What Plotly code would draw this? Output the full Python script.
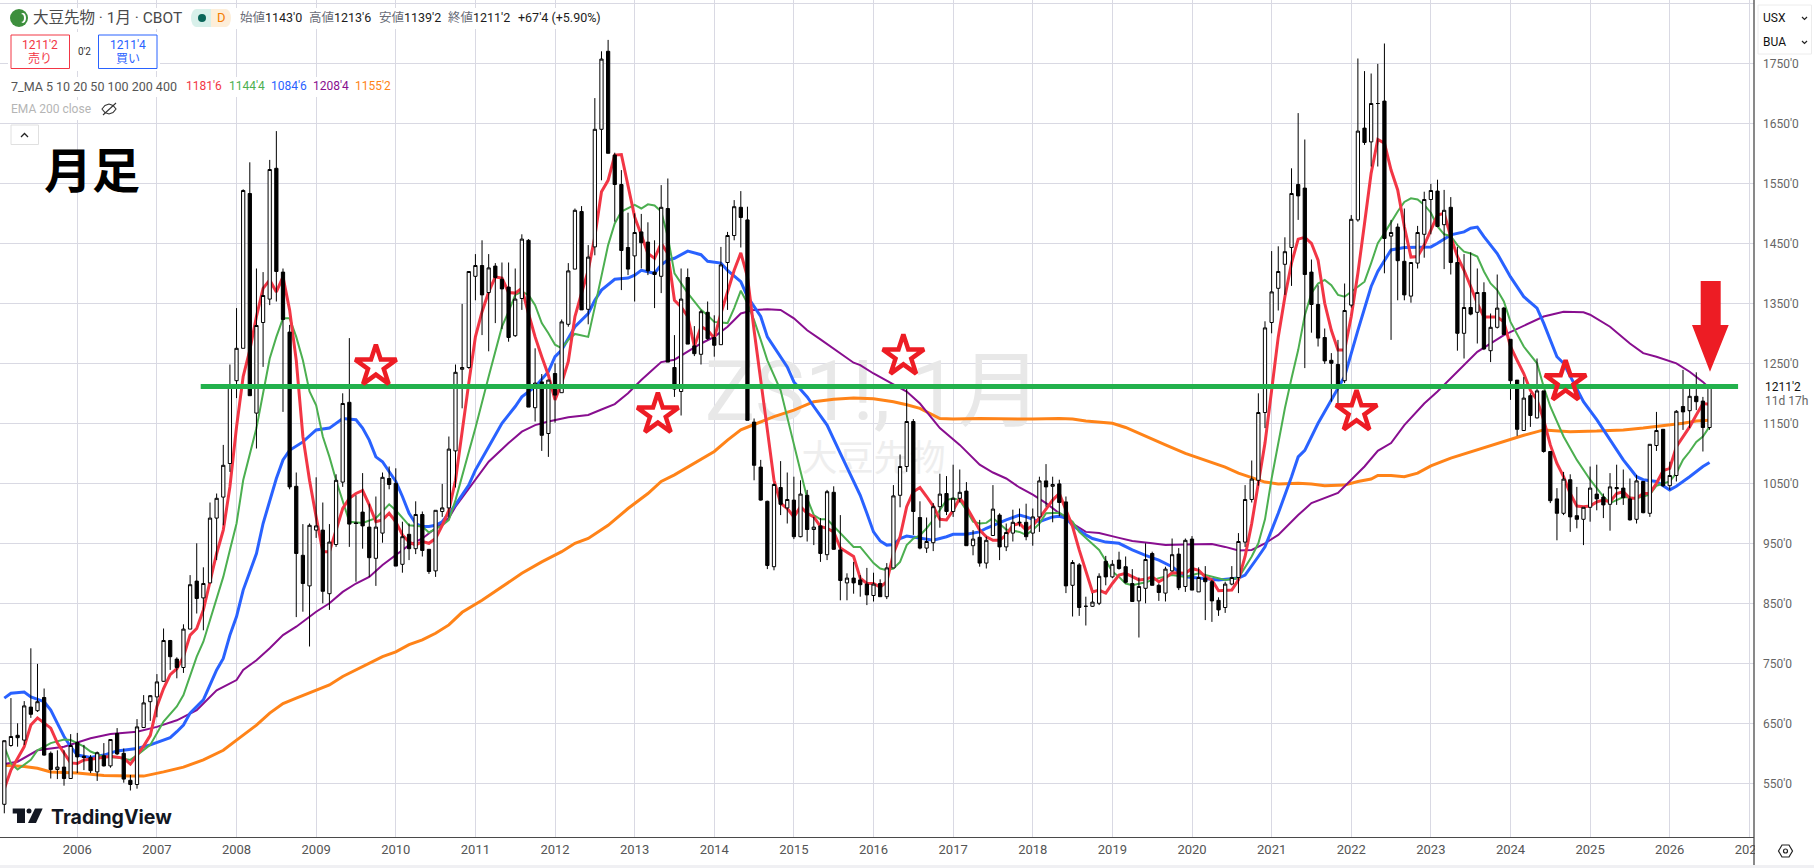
import plotly.graph_objects as go

# monthly bars, index 0 = Jan 2006, -11 = Feb 2005
months = list(range(-11, 247))

opens = [
    515, 613, 630, 622, 677, 671, 693, 600, 573, 577, 558,
    618, 595, 593, 569, 596, 579, 633, 600, 555, 548, 643, 686,
    694, 720, 788, 757, 743, 807, 887, 859, 884, 992, 1027, 1083,
    1221, 1275, 1533, 1167, 1318, 1357, 1575, 1402, 1302, 1045, 930, 879,
    972, 972, 866, 948, 1052, 1185, 984, 1002, 977, 925, 967, 1058,
    1050, 915, 965, 941, 998, 940, 904, 1003, 1009, 1104, 1240, 1243,
    1395, 1413, 1368, 1412, 1390, 1377, 1296, 1358, 1455, 1176, 1219, 1133,
    1233, 1201, 1315, 1407, 1503, 1340, 1444, 1640, 1770, 1597, 1548, 1443,
    1429, 1469, 1452, 1402, 1395, 1508, 1243, 1203, 1393, 1279, 1265, 1335,
    1293, 1281, 1418, 1463, 1510, 1489, 1152, 1077, 1020, 911, 1043, 1009,
    1022, 961, 1030, 973, 979, 931, 1035, 939, 884, 892, 889, 882,
    863, 883, 861, 909, 1030, 1078, 1153, 993, 942, 951, 1011, 1033,
    1003, 1025, 1037, 946, 960, 917, 963, 997, 944, 967, 984, 985,
    967, 994, 1054, 1045, 1049, 1019, 880, 914, 845, 845, 850, 920,
    894, 922, 911, 883, 854, 875, 933, 880, 867, 904, 932, 878,
    957, 869, 892, 886, 855, 843, 882, 893, 952, 1023, 1055, 1168,
    1318, 1375, 1415, 1443, 1548, 1542, 1402, 1348, 1293, 1255, 1248, 1221,
    1347, 1489, 1642, 1619, 1683, 1687, 1462, 1477, 1420, 1362, 1417, 1465,
    1523, 1537, 1481, 1510, 1418, 1300, 1343, 1335, 1368, 1271, 1310, 1342,
    1290, 1222, 1138, 1196, 1159, 1204, 1103, 1024, 1000, 1056, 996, 990,
    1010, 1032, 1027, 1015, 1043, 1042, 1024, 990, 1053, 1000, 1113, 1140,
    1046, 1063, 1178, 1171, 1195, 1187, 1143,
]
highs = [
    621, 692, 650, 687, 775, 749, 708, 603, 605, 605, 632,
    634, 614, 597, 603, 617, 623, 642, 608, 564, 657, 697, 697,
    732, 808, 789, 760, 815, 897, 950, 910, 1018, 1033, 1114, 1248,
    1342, 1540, 1585, 1408, 1402, 1589, 1637, 1408, 1314, 1068, 982, 983,
    1060, 1018, 982, 1065, 1200, 1292, 1030, 1067, 1016, 1028, 1068, 1078,
    1075, 986, 983, 1020, 1003, 940, 1005, 1049, 1128, 1248, 1349, 1403,
    1432, 1455, 1432, 1417, 1418, 1418, 1408, 1465, 1457, 1275, 1232, 1222,
    1250, 1323, 1417, 1508, 1512, 1447, 1692, 1770, 1789, 1601, 1572, 1501,
    1500, 1499, 1485, 1455, 1547, 1558, 1297, 1408, 1408, 1312, 1339, 1353,
    1330, 1444, 1469, 1522, 1537, 1511, 1158, 1089, 1021, 1050, 1087, 1068,
    1061, 1055, 1039, 994, 992, 1039, 1045, 997, 900, 919, 897, 909,
    901, 890, 917, 1047, 1098, 1208, 1157, 1020, 993, 1017, 1066, 1062,
    1081, 1073, 1052, 972, 989, 961, 1047, 1000, 983, 1006, 1008, 1016,
    1008, 1061, 1082, 1061, 1056, 1028, 922, 917, 861, 867, 900, 929,
    922, 936, 928, 907, 893, 950, 936, 883, 911, 958, 942, 958,
    962, 910, 912, 889, 860, 886, 912, 967, 1047, 1088, 1200, 1320,
    1437, 1445, 1460, 1575, 1667, 1623, 1423, 1380, 1308, 1267, 1289, 1383,
    1497, 1758, 1737, 1733, 1749, 1783, 1489, 1483, 1508, 1418, 1479, 1536,
    1549, 1556, 1539, 1527, 1444, 1432, 1435, 1408, 1385, 1333, 1398, 1344,
    1290, 1222, 1227, 1200, 1258, 1204, 1103, 1042, 1069, 1065, 1044, 1010,
    1078, 1081, 1033, 1067, 1081, 1073, 1058, 1064, 1053, 1115, 1169, 1140,
    1086, 1172, 1239, 1211, 1235, 1194, 1213.75,
]
lows = [
    500, 611, 611, 614, 659, 669, 596, 558, 557, 546, 558,
    567, 572, 567, 554, 578, 576, 597, 551, 538, 541, 642, 654,
    660, 719, 739, 725, 734, 807, 833, 805, 884, 922, 980, 1069,
    1192, 1275, 1196, 1108, 1244, 1347, 1353, 1169, 1040, 827, 836, 778,
    959, 850, 839, 944, 1044, 944, 886, 941, 894, 879, 951, 1040,
    912, 901, 922, 932, 928, 899, 894, 994, 993, 1043, 1175, 1241,
    1355, 1297, 1270, 1317, 1307, 1286, 1294, 1339, 1177, 1153, 1104, 1094,
    1151, 1201, 1311, 1407, 1339, 1315, 1430, 1555, 1600, 1486, 1372, 1397,
    1353, 1408, 1397, 1342, 1367, 1252, 1194, 1163, 1282, 1262, 1248, 1289,
    1261, 1281, 1339, 1455, 1443, 1155, 1055, 1021, 907, 905, 997, 983,
    957, 960, 953, 947, 919, 922, 939, 855, 855, 866, 861, 847,
    853, 861, 857, 909, 1010, 1069, 964, 940, 934, 937, 976, 997,
    994, 1018, 946, 930, 911, 908, 963, 922, 937, 953, 978, 955,
    946, 969, 1011, 985, 995, 867, 828, 829, 813, 844, 847, 880,
    892, 906, 883, 853, 793, 850, 880, 854, 853, 903, 872, 869,
    872, 869, 822, 819, 829, 834, 880, 867, 944, 1018, 1046, 1142,
    1300, 1338, 1364, 1379, 1489, 1242, 1301, 1278, 1249, 1186, 1183, 1217,
    1343, 1486, 1614, 1578, 1578, 1400, 1289, 1355, 1355, 1351, 1408, 1426,
    1465, 1477, 1407, 1398, 1271, 1258, 1330, 1283, 1272, 1252, 1308, 1297,
    1189, 1129, 1138, 1144, 1158, 1101, 1017, 955, 997, 969, 975, 947,
    986, 1005, 992, 971, 1014, 1014, 988, 983, 1000, 994, 1104, 1044,
    1039, 1053, 1139, 1142, 1172, 1103, 1139.25,
]
closes = [
    621, 628, 626, 679, 665, 686, 597, 573, 577, 558, 613,
    594, 593, 571, 601, 579, 623, 599, 557, 548, 644, 684, 696,
    719, 788, 761, 743, 807, 881, 858, 883, 992, 1025, 1080, 1211,
    1275, 1538, 1196, 1313, 1363, 1573, 1403, 1323, 1044, 933, 883, 980,
    979, 870, 952, 1055, 1183, 982, 983, 979, 926, 977, 1060, 1048,
    912, 961, 941, 998, 938, 903, 1005, 1009, 1107, 1235, 1243, 1403,
    1413, 1364, 1409, 1393, 1374, 1293, 1357, 1457, 1177, 1217, 1130, 1222,
    1197, 1319, 1404, 1505, 1339, 1427, 1640, 1757, 1600, 1548, 1438, 1407,
    1468, 1451, 1404, 1398, 1510, 1252, 1207, 1357, 1282, 1266, 1336, 1291,
    1280, 1414, 1463, 1511, 1493, 1155, 1080, 1022, 913, 1048, 1015, 1023,
    961, 1032, 973, 977, 933, 1036, 940, 888, 892, 884, 881, 864,
    882, 861, 909, 1029, 1078, 1153, 1003, 942, 953, 1011, 1032, 1003,
    1025, 1035, 946, 957, 917, 955, 1007, 944, 968, 985, 985, 961,
    994, 1054, 1044, 1048, 1018, 879, 918, 843, 845, 852, 895, 894,
    915, 908, 885, 853, 878, 923, 880, 868, 907, 931, 876, 955,
    872, 893, 886, 854, 839, 882, 893, 953, 1023, 1057, 1168, 1309,
    1369, 1403, 1436, 1533, 1529, 1398, 1348, 1292, 1254, 1250, 1212, 1338,
    1490, 1637, 1618, 1683, 1683, 1458, 1468, 1421, 1364, 1418, 1468, 1523,
    1538, 1478, 1505, 1418, 1300, 1343, 1332, 1368, 1274, 1310, 1342, 1298,
    1221, 1140, 1192, 1163, 1204, 1103, 1021, 1000, 1057, 994, 990, 1010,
    1042, 1024, 1014, 1044, 1041, 1026, 989, 1054, 1001, 1115, 1138, 1046,
    1063, 1170, 1169, 1195, 1186, 1143, 1211.25,
]

ma5_x = [-11, -10, -8, -7, -6, -4, -3, -2, -1, 0, 1, 2, 4, 5, 7, 8, 9, 10, 11, 12, 13, 14, 15, 16, 17, 18, 19, 20, 21, 22, 23, 24, 25, 26, 27, 28, 29, 30, 31, 32, 33, 34, 35, 36, 37, 38, 39, 40, 41, 42, 43, 44, 45, 46, 47, 48, 49, 50, 51, 52, 53, 54, 55, 56, 57, 58, 59, 60, 61, 62, 63, 64, 65, 66, 67, 68, 69, 70, 71, 72, 73, 74, 75, 76, 77, 78, 79, 80, 81, 82, 83, 84, 85, 86, 87, 88, 89, 90, 91, 92, 93, 94, 95, 96, 97, 98, 99, 100, 101, 102, 103, 104, 105, 106, 107, 108, 109, 110, 111, 112, 113, 114, 115, 117, 118, 119, 120, 121, 122, 123, 124, 125, 126, 127, 128, 129, 130, 131, 132, 133, 134, 135, 136, 137, 138, 139, 140, 141, 142, 143, 144, 145, 146, 147, 148, 149, 150, 151, 152, 153, 154, 155, 156, 157, 158, 159, 160, 161, 162, 163, 164, 165, 166, 167, 168, 169, 170, 171, 172, 173, 174, 175, 176, 177, 178, 179, 180, 181, 182, 183, 184, 185, 186, 187, 188, 189, 190, 191, 192, 193, 194, 195, 196, 197, 198, 199, 200, 201, 202, 203, 204, 205, 206, 207, 208, 209, 210, 211, 212, 213, 214, 215, 216, 217, 218, 219, 220, 221, 222, 223, 224, 225, 226, 227, 228, 229, 230, 231, 232, 233, 234, 235, 236, 237, 238, 239, 240, 241, 242, 243, 244, 245, 246]
ma5 = [541, 572, 611, 647, 659, 642, 617, 600, 584, 583, 589, 590, 593, 595, 592, 582, 597, 612, 630, 678, 708, 731, 741, 761, 797, 808, 839, 886, 933, 972, 1044, 1144, 1228, 1272, 1328, 1375, 1389, 1369, 1394, 1339, 1255, 1128, 1055, 994, 936, 936, 972, 1008, 1025, 1033, 1038, 1014, 986, 989, 1000, 986, 964, 952, 947, 953, 950, 958, 980, 1005, 1055, 1139, 1217, 1294, 1336, 1369, 1394, 1392, 1368, 1367, 1375, 1333, 1294, 1261, 1230, 1189, 1217, 1253, 1328, 1367, 1405, 1461, 1536, 1555, 1597, 1598, 1544, 1494, 1464, 1433, 1425, 1450, 1433, 1355, 1344, 1328, 1278, 1311, 1305, 1292, 1333, 1367, 1405, 1434, 1394, 1305, 1217, 1139, 1055, 1017, 1008, 994, 1011, 1000, 994, 978, 975, 969, 942, 928, 892, 883, 883, 877, 886, 933, 961, 1011, 1036, 1043, 1028, 1012, 990, 989, 1005, 1025, 1011, 992, 972, 961, 955, 955, 964, 980, 983, 972, 980, 992, 1008, 1022, 1033, 1005, 978, 939, 905, 869, 872, 867, 883, 897, 900, 894, 889, 890, 894, 886, 892, 901, 900, 900, 908, 905, 894, 889, 871, 871, 872, 889, 928, 983, 1050, 1117, 1205, 1294, 1361, 1417, 1457, 1460, 1450, 1422, 1350, 1305, 1272, 1272, 1328, 1400, 1483, 1567, 1623, 1617, 1572, 1539, 1478, 1427, 1428, 1447, 1472, 1497, 1500, 1461, 1428, 1405, 1378, 1350, 1327, 1327, 1327, 1319, 1278, 1255, 1233, 1205, 1189, 1156, 1114, 1083, 1061, 1033, 1012, 1011, 1012, 1019, 1022, 1019, 1033, 1036, 1025, 1025, 1033, 1033, 1050, 1071, 1075, 1111, 1128, 1144, 1164, 1183, 1181.75]

ma10_x = [-11, -10, -9, -7, -6, -4, -2, -1, 0, 1, 2, 4, 6, 8, 9, 11, 13, 15, 16, 18, 19, 20, 22, 23, 24, 25, 27, 28, 29, 30, 31, 32, 33, 34, 35, 36, 37, 38, 39, 41, 43, 45, 47, 48, 50, 52, 53, 55, 56, 57, 58, 60, 62, 64, 65, 66, 67, 68, 69, 70, 71, 72, 73, 74, 75, 76, 77, 78, 79, 80, 81, 82, 84, 85, 86, 87, 88, 89, 90, 92, 94, 95, 96, 98, 99, 100, 101, 102, 103, 104, 106, 107, 108, 109, 110, 111, 112, 113, 115, 117, 118, 120, 121, 122, 123, 124, 125, 126, 127, 128, 129, 130, 131, 132, 133, 134, 135, 136, 137, 138, 139, 140, 142, 143, 144, 145, 146, 148, 149, 150, 151, 153, 154, 156, 157, 158, 159, 161, 163, 165, 167, 169, 171, 173, 175, 176, 177, 178, 179, 180, 181, 182, 183, 184, 185, 186, 187, 188, 189, 190, 191, 192, 194, 195, 196, 197, 198, 199, 200, 201, 202, 203, 204, 205, 206, 207, 208, 209, 210, 211, 212, 213, 214, 215, 216, 218, 220, 221, 222, 224, 226, 227, 228, 229, 230, 231, 233, 235, 237, 238, 240, 241, 242, 243, 244, 245, 246]
ma10 = [611, 583, 573, 589, 605, 617, 623, 622, 617, 611, 603, 594, 593, 589, 597, 614, 653, 678, 697, 761, 786, 822, 894, 939, 983, 1055, 1142, 1200, 1258, 1294, 1325, 1325, 1294, 1255, 1203, 1180, 1128, 1094, 1055, 986, 984, 992, 1015, 1005, 980, 978, 968, 980, 989, 1022, 1061, 1142, 1228, 1311, 1336, 1364, 1369, 1364, 1347, 1317, 1300, 1281, 1275, 1289, 1299, 1297, 1294, 1344, 1397, 1447, 1483, 1503, 1514, 1508, 1515, 1513, 1503, 1461, 1400, 1367, 1339, 1330, 1319, 1317, 1342, 1371, 1350, 1322, 1289, 1255, 1205, 1161, 1117, 1072, 1025, 997, 990, 990, 967, 944, 944, 917, 908, 905, 908, 919, 947, 958, 963, 975, 989, 1005, 1022, 1025, 1022, 1005, 986, 983, 984, 992, 983, 973, 969, 964, 972, 983, 1000, 1001, 994, 986, 969, 950, 939, 903, 894, 883, 880, 885, 892, 897, 894, 900, 894, 889, 892, 911, 928, 950, 990, 1058, 1118, 1175, 1225, 1272, 1330, 1367, 1383, 1389, 1380, 1364, 1361, 1369, 1386, 1417, 1450, 1467, 1486, 1503, 1519, 1525, 1523, 1514, 1501, 1478, 1465, 1462, 1447, 1436, 1433, 1428, 1403, 1383, 1372, 1353, 1319, 1278, 1250, 1211, 1178, 1128, 1089, 1072, 1056, 1042, 1028, 1017, 1027, 1025, 1031, 1046, 1053, 1067, 1089, 1103, 1119, 1128, 1144.5]

ma20_x = [-11, -10, -8, -7, -5, -4, -3, -2, -1, 0, 2, 4, 6, 8, 9, 11, 13, 14, 15, 16, 17, 19, 21, 22, 23, 24, 25, 27, 28, 29, 30, 31, 32, 34, 36, 38, 40, 42, 43, 44, 45, 46, 48, 49, 50, 51, 52, 53, 54, 55, 57, 59, 60, 62, 64, 66, 67, 69, 71, 72, 73, 75, 77, 78, 79, 81, 83, 84, 85, 87, 88, 89, 90, 92, 94, 95, 97, 98, 100, 101, 103, 104, 106, 107, 108, 110, 111, 113, 115, 117, 118, 119, 120, 121, 122, 123, 124, 125, 127, 129, 131, 132, 134, 136, 137, 138, 140, 142, 143, 145, 147, 148, 149, 150, 152, 153, 155, 157, 159, 161, 163, 165, 167, 169, 172, 175, 176, 178, 179, 180, 181, 183, 184, 185, 187, 189, 191, 193, 195, 196, 197, 198, 200, 202, 204, 205, 207, 209, 210, 211, 212, 214, 216, 218, 220, 221, 222, 223, 224, 225, 227, 229, 230, 232, 233, 234, 235, 236, 238, 240, 241, 243, 245, 246]
ma20 = [692, 700, 702, 694, 686, 672, 650, 628, 611, 597, 593, 597, 604, 607, 608, 614, 622, 626, 636, 647, 667, 689, 739, 758, 797, 828, 872, 933, 983, 1022, 1058, 1089, 1105, 1119, 1139, 1142, 1158, 1156, 1142, 1122, 1094, 1086, 1053, 1028, 1000, 983, 978, 978, 980, 986, 1014, 1047, 1072, 1111, 1150, 1178, 1194, 1211, 1236, 1261, 1272, 1311, 1333, 1355, 1372, 1390, 1392, 1397, 1405, 1400, 1414, 1422, 1425, 1437, 1431, 1420, 1417, 1405, 1386, 1361, 1328, 1294, 1261, 1244, 1219, 1194, 1178, 1147, 1100, 1053, 1030, 1000, 969, 954, 947, 948, 958, 962, 958, 955, 961, 965, 965, 969, 975, 980, 989, 997, 994, 986, 994, 995, 992, 980, 964, 958, 952, 950, 939, 930, 922, 911, 894, 892, 889, 892, 897, 928, 944, 972, 1000, 1061, 1094, 1105, 1150, 1189, 1228, 1305, 1378, 1403, 1422, 1439, 1443, 1443, 1444, 1450, 1464, 1469, 1475, 1477, 1461, 1433, 1394, 1361, 1342, 1317, 1289, 1261, 1250, 1228, 1186, 1156, 1139, 1106, 1089, 1075, 1061, 1056, 1053, 1039, 1045, 1061, 1078, 1084.75]

ma50_x = [-11, -9, -6, -2, 2, 5, 9, 12, 15, 18, 21, 24, 25, 27, 29, 31, 33, 36, 38, 40, 42, 44, 46, 48, 50, 52, 54, 56, 57, 60, 62, 65, 67, 69, 71, 74, 77, 79, 81, 83, 85, 87, 88, 90, 92, 94, 96, 98, 100, 102, 104, 106, 108, 110, 112, 115, 117, 118, 120, 123, 125, 127, 130, 133, 136, 138, 140, 142, 144, 146, 148, 150, 152, 154, 157, 159, 162, 164, 167, 171, 173, 175, 177, 179, 181, 183, 184, 186, 190, 192, 194, 196, 198, 200, 203, 205, 207, 208, 211, 215, 221, 224, 227, 228, 231, 234, 236, 238, 241, 243, 245, 246]
ma50 = [582, 586, 605, 611, 625, 632, 636, 644, 655, 672, 705, 722, 739, 755, 775, 797, 811, 836, 850, 869, 883, 894, 914, 930, 947, 958, 975, 992, 1011, 1055, 1086, 1117, 1136, 1147, 1153, 1160, 1164, 1173, 1182, 1200, 1222, 1242, 1252, 1256, 1269, 1283, 1294, 1311, 1333, 1339, 1340, 1339, 1325, 1305, 1290, 1267, 1251, 1247, 1233, 1215, 1203, 1183, 1142, 1114, 1081, 1068, 1058, 1043, 1031, 1017, 1000, 983, 969, 967, 959, 954, 950, 947, 948, 949, 944, 938, 939, 950, 964, 986, 997, 1017, 1034, 1056, 1078, 1104, 1117, 1147, 1183, 1203, 1225, 1236, 1269, 1297, 1328, 1336, 1335, 1331, 1311, 1283, 1267, 1261, 1250, 1236, 1219, 1208.5]

ma100_x = [-11, -8, -6, -4, 0, 4, 8, 10, 13, 16, 19, 22, 24, 27, 29, 31, 33, 36, 38, 40, 42, 44, 46, 48, 50, 52, 54, 56, 58, 61, 64, 67, 70, 73, 75, 77, 80, 83, 86, 88, 90, 93, 96, 98, 100, 102, 105, 108, 111, 114, 117, 120, 123, 125, 127, 130, 132, 136, 140, 144, 148, 150, 152, 156, 158, 161, 164, 167, 170, 173, 175, 177, 179, 181, 184, 186, 188, 191, 193, 195, 196, 198, 200, 202, 204, 207, 209, 213, 216, 218, 221, 225, 229, 233, 236, 239, 242, 244, 246]
ma100 = [580, 578, 575, 569, 567, 563, 562, 562, 569, 577, 589, 605, 622, 647, 667, 683, 692, 705, 714, 728, 739, 749, 761, 769, 781, 789, 800, 814, 835, 855, 877, 900, 919, 936, 950, 958, 980, 1008, 1033, 1053, 1064, 1083, 1103, 1122, 1139, 1148, 1161, 1172, 1186, 1190, 1192, 1191, 1186, 1181, 1175, 1158, 1157, 1158, 1157, 1157, 1158, 1157, 1154, 1150, 1143, 1128, 1114, 1100, 1089, 1077, 1067, 1059, 1052, 1049, 1050, 1049, 1046, 1047, 1053, 1057, 1063, 1063, 1061, 1067, 1079, 1092, 1099, 1113, 1123, 1130, 1139, 1136, 1137, 1139, 1142, 1146, 1150, 1154, 1155.25]

# drawn lines on the chart
level_price = 1211.2
level_x = [18.6, 250.3]
star_x = [45, 87.5, 124.5, 192.8, 224.3]
star_y = [1245, 1165, 1262, 1169, 1219]

year_labels = [str(y) for y in range(2006, 2028)]
year_ticks = [12 * k for k in range(22)]
price_ticks = list(range(550, 1851, 100))
price_labels = [f"{p}'0" for p in price_ticks[:-1]] + [""]

W, H = 1814, 868
PLOT_W, PLOT_H = 1754, 837
x_range = [-11.65, 252.7]
y_range = [460.5, 1855.5]

CJK = "Roboto, Noto Sans CJK JP, sans-serif"
RED, GREEN, BLUE, PURPLE, ORANGE = "#f23645", "#4caf50", "#2962ff", "#880e8f", "#ff8318"
GRID = "#d9d9e3"


def px(x):
    return x / PLOT_W


def py(y):
    return 1 - y / PLOT_H


def path(points, close=True):
    s = "M " + " L ".join(f"{px(a):.5f},{py(b):.5f}" for a, b in points)
    return s + " Z" if close else s


def rect(x0, y0, x1, y1, **kw):
    return dict(type="rect", xref="paper", yref="paper", x0=px(x0), x1=px(x1), y0=py(y1), y1=py(y0), **kw)


def label(x, y, text, size=12, color="#333", anchor="left", family=CJK, **kw):
    return dict(xref="paper", yref="paper", x=px(x), y=py(y), text=text, showarrow=False,
                xanchor=anchor, yanchor="middle", align=anchor,
                font=dict(size=size, color=color, family=family), borderpad=0, **kw)


fig = go.Figure()

# watermark sits under everything else
fig.add_trace(go.Scatter(x=[120, 120], y=[1190, 1085], mode="text",
                         text=["ZS1!, 1月", "大豆先物"],
                         textfont=dict(size=[84, 36], color=["#e8e8e8", "#eeeeee"], family=CJK),
                         hoverinfo="skip", showlegend=False))

for xs, ys, col, w in [(ma100_x, ma100, ORANGE, 3), (ma50_x, ma50, PURPLE, 2), (ma20_x, ma20, BLUE, 3),
                       (ma10_x, ma10, GREEN, 2), (ma5_x, ma5, RED, 3)]:
    fig.add_trace(go.Scatter(x=xs, y=ys, mode="lines", line=dict(color=col, width=w), showlegend=False))

# candles on an overlay so they cover the moving averages
fig.add_trace(go.Candlestick(x=months, open=opens, high=highs, low=lows, close=closes,
                             xaxis="x2", yaxis="y2", showlegend=False,
                             increasing=dict(line=dict(color="#000000", width=1), fillcolor="#ffffff"),
                             decreasing=dict(line=dict(color="#000000", width=1), fillcolor="#000000")))

fig.add_trace(go.Scatter(x=level_x, y=[level_price, level_price], mode="lines", xaxis="x3", yaxis="y3",
                         line=dict(color="#22b14c", width=5), showlegend=False))
fig.add_trace(go.Scatter(x=star_x, y=star_y, mode="markers", xaxis="x3", yaxis="y3", showlegend=False,
                         marker=dict(symbol="star-open", size=31, color="#ed1c24", line=dict(width=4.5, color="#ed1c24"))))

shapes = [
    # panels behind the header text
    rect(8, 8, 605, 29, fillcolor="white", line_width=0),
    rect(8, 32, 160, 71, fillcolor="white", line_width=0),
    rect(8, 77, 392, 97, fillcolor="white", line_width=0),
    rect(8, 100, 122, 120, fillcolor="white", line_width=0),
    # header logo and pill
    dict(type="circle", xref="paper", yref="paper", x0=px(10), x1=px(28), y0=py(27), y1=py(9),
         fillcolor="#3d8f3d", line_width=0),
    dict(type="circle", xref="paper", yref="paper", x0=px(20), x1=px(26), y0=py(23), y1=py(13),
         fillcolor="white", line_width=0),
    dict(type="circle", xref="paper", yref="paper", x0=px(18), x1=px(24), y0=py(22), y1=py(14),
         fillcolor="#3d8f3d", line_width=0),
    rect(196, 9, 211, 27, fillcolor="#d8f0ea", line_width=0),
    rect(211, 9, 226, 27, fillcolor="#fdeed9", line_width=0),
    dict(type="circle", xref="paper", yref="paper", x0=px(191), x1=px(201), y0=py(27), y1=py(9),
         fillcolor="#d8f0ea", line_width=0),
    dict(type="circle", xref="paper", yref="paper", x0=px(221), x1=px(231), y0=py(27), y1=py(9),
         fillcolor="#fdeed9", line_width=0),
    dict(type="circle", xref="paper", yref="paper", x0=px(198), x1=px(206), y0=py(22), y1=py(14),
         fillcolor="#0a665a", line_width=0),
    # sell and buy buttons
    rect(11, 35, 69.5, 68.5, fillcolor="white", line=dict(color=RED, width=1)),
    rect(98.5, 35, 157, 68.5, fillcolor="white", line=dict(color=BLUE, width=1)),
    # collapse button and eye icon
    rect(11, 125, 38.5, 144.5, fillcolor="white", line=dict(color="#e0e0e0", width=1)),
    dict(type="path", xref="paper", yref="paper", path=path([(21, 137), (24.5, 133.5), (28, 137)], False),
         line=dict(color="#222", width=1.3)),
    dict(type="path", xref="paper", yref="paper",
         path=path([(102, 109), (105, 105.5), (109, 104), (113, 105.5), (116, 109), (113, 112.5), (109, 114), (105, 112.5)]),
         line=dict(color="#333", width=1.1)),
    dict(type="path", xref="paper", yref="paper", path=path([(103, 115), (116, 103)], False),
         line=dict(color="#333", width=1.1)),
    # TradingView mark
    dict(type="path", xref="paper", yref="paper", fillcolor="#131722", line_width=0,
         path=path([(12.7, 808.5), (25, 808.5), (25, 823), (17, 823), (17, 813.5), (12.7, 813.5)])),
    dict(type="circle", xref="paper", yref="paper", x0=px(26.5), x1=px(31.5), y0=py(813.5), y1=py(808.5),
         fillcolor="#131722", line_width=0),
    dict(type="path", xref="paper", yref="paper", fillcolor="#131722", line_width=0,
         path=path([(35, 808.5), (42.7, 808.5), (36, 823), (28, 823)])),
    # red arrow
    dict(type="path", xref="paper", yref="paper", fillcolor="#ed1c24", line_width=0,
         path=path([(1700.7, 281), (1720.7, 281), (1720.7, 325), (1728.7, 325), (1710, 371.7), (1692, 325), (1700.7, 325)])),
    # right and bottom chrome
    rect(1755, 838, 1814, 868, fillcolor="white", line_width=0),
    rect(0, 865, 1814, 868, fillcolor="#f0f0f3", line_width=0),
    dict(type="line", xref="paper", yref="paper", x0=px(1754), x1=px(1754), y0=py(0), y1=py(865),
         line=dict(color="#4a4a4a", width=1.3)),
    rect(1758, 5, 1811.5, 54, fillcolor="white", line=dict(color="#ececec", width=1)),
    dict(type="path", xref="paper", yref="paper", path=path([(1802, 17), (1804.5, 19.5), (1807, 17)], False),
         line=dict(color="#222", width=1.2)),
    dict(type="path", xref="paper", yref="paper", path=path([(1802, 41), (1804.5, 43.5), (1807, 41)], False),
         line=dict(color="#222", width=1.2)),
    dict(type="path", xref="paper", yref="paper",
         path=path([(1778.5, 851), (1782, 845), (1789, 845), (1792.5, 851), (1789, 857), (1782, 857)]),
         line=dict(color="#222", width=1.2)),
    dict(type="circle", xref="paper", yref="paper", x0=px(1783.5), x1=px(1787.5), y0=py(853), y1=py(849),
         line=dict(color="#222", width=1.2)),
]

grey, dark = "#6a6d78", "#1c1c1c"
annotations = [
    label(32, 18, "大豆先物 · 1月 · CBOT", 15.5, "#4a4a4a"),
    label(216, 18, "D", 13, "#f57c00"),
    label(239, 18, f'<span style="color:{grey}">始値</span>1143\'0', 12.5, dark),
    label(308, 18, f'<span style="color:{grey}">高値</span>1213\'6', 12.5, dark),
    label(378, 18, f'<span style="color:{grey}">安値</span>1139\'2', 12.5, dark),
    label(447, 18, f'<span style="color:{grey}">終値</span>1211\'2', 12.5, dark),
    label(516.5, 18, "+67'4 (+5.90%)", 12.5, dark),
    label(40, 44.5, "1211'2", 12, RED, "center"),
    label(40, 59, "売り", 12, RED, "center"),
    label(84, 51.5, "0'2", 10, "#333", "center"),
    label(127.5, 44.5, "1211'4", 12, BLUE, "center"),
    label(127.5, 59, "買い", 12, BLUE, "center"),
    label(10, 86, "7_MA 5 10 20 50 100 200 400", 12.5, "#555"),
    label(185, 86, "1181'6", 12, RED),
    label(228, 86, "1144'4", 12, GREEN),
    label(270, 86, "1084'6", 12, BLUE),
    label(312, 86, "1208'4", 12, PURPLE),
    label(354, 86, "1155'2", 12, ORANGE),
    label(10, 109.5, "EMA 200 close", 12, "#b5b5b5"),
    label(92, 167, "<b>月足</b>", 48, "#000000", "center", "Noto Sans CJK JP"),
    label(50, 816.5, "<b>TradingView</b>", 19.5, "#131722", "left", "Inter"),
    label(1764, 387, "1211'2", 12, "#111"),
    label(1764, 401, "11d 17h", 12, "#666"),
    label(1762, 18, "USX", 12, "#111"),
    label(1762, 42, "BUA", 12, "#111"),
]

axis_common = dict(range=x_range, visible=False, fixedrange=True)
fig.update_layout(
    width=W, height=H,
    margin=dict(l=0, r=W - PLOT_W, t=0, b=H - PLOT_H),
    paper_bgcolor="white", plot_bgcolor="white",
    showlegend=False,
    boxgap=0.3,
    xaxis=dict(range=x_range, tickvals=year_ticks, ticktext=year_labels, showgrid=True, gridcolor=GRID,
               zeroline=False, showline=True, linecolor="#4a4a4a", linewidth=1.3, ticks="",
               tickfont=dict(family="Roboto", size=13, color="#555"), rangeslider=dict(visible=False)),
    yaxis=dict(range=y_range, side="right", tickvals=price_ticks, ticktext=price_labels, showgrid=True,
               gridcolor=GRID, zeroline=False, showline=False, ticks="", ticklabelstandoff=8,
               tickfont=dict(family="Roboto", size=12, color="#666")),
    xaxis2=dict(overlaying="x", anchor="y2", rangeslider=dict(visible=False), **axis_common),
    yaxis2=dict(overlaying="y", anchor="x2", range=y_range, visible=False),
    xaxis3=dict(overlaying="x", anchor="y3", **axis_common),
    yaxis3=dict(overlaying="y", anchor="x3", range=y_range, visible=False),
    shapes=shapes,
    annotations=annotations,
)

fig.write_html("out.html", config=dict(displayModeBar=False),
               post_script="document.body.style.margin='0';document.body.style.overflow='hidden';")
